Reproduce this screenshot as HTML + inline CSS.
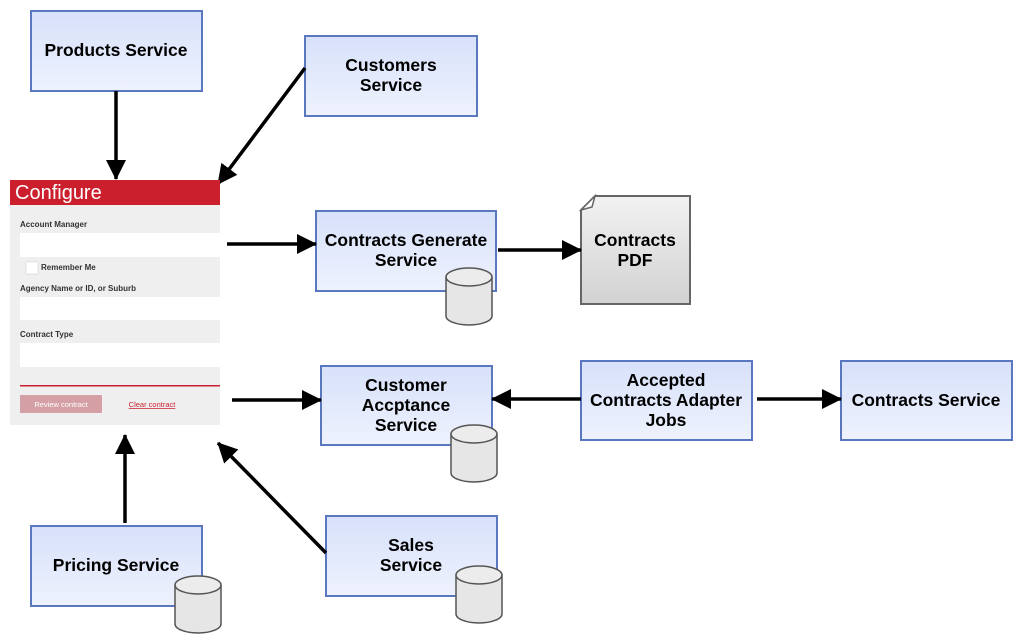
<!DOCTYPE html>
<html><head><meta charset="utf-8"><style>
html,body{margin:0;padding:0;background:#fff;width:1025px;height:635px;overflow:hidden}
svg{display:block}
text{font-family:"Liberation Sans",Arial,sans-serif}
.t{font-size:17.5px;font-weight:bold;fill:#000;text-anchor:middle}
.f{font-size:8px;font-weight:bold;fill:#333}
</style></head><body>
<svg width="1025" height="635" viewBox="0 0 1025 635" xmlns="http://www.w3.org/2000/svg">
<defs>
<linearGradient id="bg" x1="0" y1="0" x2="0" y2="1"><stop offset="0" stop-color="#d7e1fa"/><stop offset="1" stop-color="#eef2fd"/></linearGradient>
<linearGradient id="gg" x1="0" y1="0" x2="0" y2="1"><stop offset="0" stop-color="#f2f2f2"/><stop offset="1" stop-color="#d2d2d2"/></linearGradient>
<marker id="ah" markerWidth="20" markerHeight="20" refX="19" refY="10" orient="auto" markerUnits="userSpaceOnUse" viewBox="0 0 20 20"><path d="M0,0 L20,10 L0,20 z" fill="#000"/></marker>
<g id="cyl"><path d="M0,9 L0,48 A23,9 0 0 0 46,48 L46,9" fill="#e6e6e6" stroke="#555" stroke-width="1.5"/><ellipse cx="23" cy="9" rx="23" ry="9" fill="#ececec" stroke="#555" stroke-width="1.5"/></g>
</defs>
<g fill="url(#bg)" stroke="#5a78bf" stroke-width="2">
<rect x="31" y="11" width="171" height="80"/>
<rect x="305" y="36" width="172" height="80"/>
<rect x="316" y="211" width="180" height="80"/>
<rect x="321" y="366" width="171" height="79"/>
<rect x="581" y="361" width="171" height="79"/>
<rect x="841" y="361" width="171" height="79"/>
<rect x="31" y="526" width="171" height="80"/>
<rect x="326" y="516" width="171" height="80"/>
</g>
<path d="M595,196 L690,196 L690,304 L581,304 L581,210 Z" fill="url(#gg)" stroke="#666" stroke-width="2"/>
<path d="M581,210 L595,196 L592,207 Z" fill="#fff" stroke="#666" stroke-width="1.5"/>
<use href="#cyl" x="446" y="268"/>
<use href="#cyl" x="451" y="425"/>
<use href="#cyl" x="175" y="576"/>
<use href="#cyl" x="456" y="566"/>
<text class="t" x="116" y="56">Products Service</text>
<text class="t" x="391" y="71">Customers</text><text class="t" x="391" y="91">Service</text>
<text class="t" x="406" y="246">Contracts Generate</text><text class="t" x="406" y="266">Service</text>
<text class="t" x="635" y="246">Contracts</text><text class="t" x="635" y="266">PDF</text>
<text class="t" x="406" y="391">Customer</text><text class="t" x="406" y="411">Accptance</text><text class="t" x="406" y="431">Service</text>
<text class="t" x="666" y="386">Accepted</text><text class="t" x="666" y="406">Contracts Adapter</text><text class="t" x="666" y="426">Jobs</text>
<text class="t" x="926" y="406">Contracts Service</text>
<text class="t" x="116" y="571">Pricing Service</text>
<text class="t" x="411" y="551">Sales</text><text class="t" x="411" y="571">Service</text>
<g stroke="#000" stroke-width="3.5" marker-end="url(#ah)" fill="none">
<line x1="116" y1="91" x2="116" y2="179"/>
<line x1="305" y1="68" x2="218" y2="184"/>
<line x1="227" y1="244" x2="316" y2="244"/>
<line x1="498" y1="250" x2="581" y2="250"/>
<line x1="232" y1="400" x2="321" y2="400"/>
<line x1="581" y1="399" x2="492" y2="399"/>
<line x1="757" y1="399" x2="841" y2="399"/>
<line x1="125" y1="523" x2="125" y2="435"/>
<line x1="326" y1="553" x2="218" y2="443"/>
</g>
<rect x="10" y="180" width="210" height="245" fill="#efefef"/>
<rect x="10" y="180" width="210" height="25" fill="#cc1f2e"/>
<text x="15" y="199" font-size="20" fill="#fff">Configure</text>
<text class="f" x="20" y="227">Account Manager</text>
<rect x="20" y="233" width="200" height="24" fill="#fff"/>
<rect x="26" y="262" width="12" height="12" fill="#fff" stroke="#ccc" stroke-width="0.5"/>
<text class="f" x="41" y="270" font-size="6.5">Remember Me</text>
<text class="f" x="20" y="291">Agency Name or ID, or Suburb</text>
<rect x="20" y="297" width="200" height="23" fill="#fff"/>
<text class="f" x="20" y="337">Contract Type</text>
<rect x="20" y="343" width="200" height="24" fill="#fff"/>
<rect x="20" y="385" width="200" height="1.5" fill="#cc1f2e"/>
<rect x="20" y="395" width="82" height="18" fill="#d4a0a6" rx="1"/>
<text x="61" y="407" font-size="7.5" fill="#fff" text-anchor="middle">Review contract</text>
<text x="152" y="407" font-size="7.5" fill="#cc1f2e" text-anchor="middle" text-decoration="underline">Clear contract</text>
</svg>
</body></html>
